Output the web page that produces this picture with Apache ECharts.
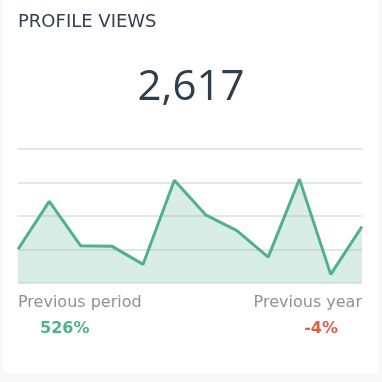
<!DOCTYPE html>
<html>
<head>
<meta charset="utf-8">
<script src="https://cdn.jsdelivr.net/npm/echarts@6/dist/echarts.min.js"></script>
<style>
html,body{margin:0;padding:0;background:#f8f8f8;}
#card{position:absolute;left:3px;top:0;width:375px;height:373px;background:#fff;}
#chart{position:absolute;left:0;top:0;width:382px;height:382px;}
</style>
</head>
<body>
<div id="card"></div>
<div id="chart"></div>
<script>
const categories = ['1','2','3','4','5','6','7','8','9','10','11','12'];
const views = [141, 341, 156, 154, 78, 429, 285, 219, 108, 434, 36, 236];
const yTicks = [0, 140, 280, 420, 560];
const titleText = 'PROFILE VIEWS';
const totalText = '2,617';
const prevPeriodLabel = 'Previous period';
const prevPeriodValue = '526%';
const prevYearLabel = 'Previous year';
const prevYearValue = '-4%';

const chart = echarts.init(document.getElementById('chart'), null, {renderer:'canvas'});
chart.setOption({
  backgroundColor: 'transparent',
  animation: false,
  title: [
    {text: titleText, left: 18, top: 13, padding: 0, textStyle:{fontFamily:'DejaVu Sans', fontSize:18, fontWeight:'normal', color:'#34404f'}},
    {text: totalText, left: 'center', top: 67, padding: 0, textStyle:{fontFamily:'Open Sans', fontSize:42, fontWeight:'normal', color:'#2f3d4c'}},
    {text: prevPeriodLabel, left: 18, top: 295, padding: 0, textStyle:{fontFamily:'DejaVu Sans', fontSize:16, fontWeight:'normal', color:'#8d919a'}},
    {text: prevPeriodValue, left: 40, top: 321, padding: 0, textStyle:{fontFamily:'DejaVu Sans', fontSize:16, fontWeight:'bold', color:'#4fb28d'}},
    {text: prevYearLabel, right: 20, top: 295, padding: 0, textStyle:{fontFamily:'DejaVu Sans', fontSize:16, fontWeight:'normal', color:'#8d919a'}},
    {text: prevYearValue, right: 44, top: 321, padding: 0, textStyle:{fontFamily:'DejaVu Sans', fontSize:16, fontWeight:'bold', color:'#d9604b'}}
  ],
  grid: {left: 18, right: 20, top: 149, bottom: 99},
  xAxis: {
    type: 'category', data: categories, boundaryGap: false,
    axisLine:{show:false}, axisTick:{show:false}, axisLabel:{show:false}, splitLine:{show:false}
  },
  yAxis: {
    type: 'value', min: yTicks[0], max: yTicks[yTicks.length-1], interval: yTicks[1]-yTicks[0],
    axisLine:{show:false}, axisTick:{show:false}, axisLabel:{show:false},
    splitLine:{show:true, lineStyle:{color:'#dedede', width:1.5}}
  },
  series: [{
    type: 'line', data: views, symbol: 'none', smooth: false,
    lineStyle: {color:'#52b08f', width:3},
    areaStyle: {color:'rgba(82,176,143,0.33)'},
    z: 3
  }]
});
</script>
</body>
</html>
